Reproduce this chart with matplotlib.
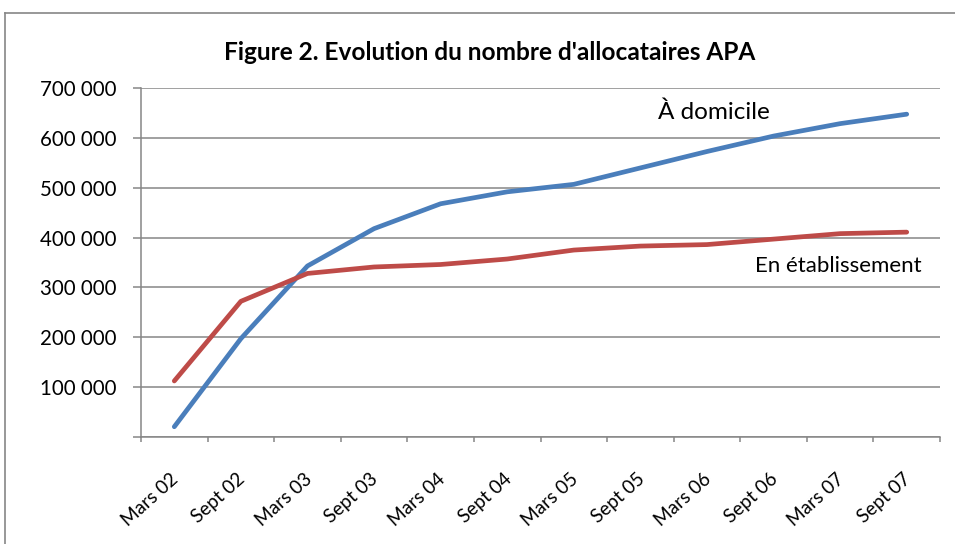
import matplotlib

matplotlib.use("Agg")
import matplotlib.pyplot as plt
from matplotlib.lines import Line2D
from matplotlib.ticker import FuncFormatter
from matplotlib.transforms import ScaledTranslation

plt.rcParams["font.family"] = ["Lato", "DejaVu Sans"]

# ---- data
periods = ["Mars 02", "Sept 02", "Mars 03", "Sept 03", "Mars 04", "Sept 04",
           "Mars 05", "Sept 05", "Mars 06", "Sept 06", "Mars 07", "Sept 07"]
domicile = [20000, 197000, 343000, 418000, 468000, 492000,
            507000, 540000, 573000, 604000, 629000, 648000]
etablissement = [112000, 272000, 328000, 341000, 346000, 357000,
                 375000, 383000, 386000, 397000, 408000, 411000]
yticks = [0, 100000, 200000, 300000, 400000, 500000, 600000, 700000]

BLUE = "#4A7EBB"
RED = "#BE4B48"
GREY = "#868686"

W, H = 955, 544
fig = plt.figure(figsize=(W / 100, H / 100), dpi=100)
ax = fig.add_axes([141 / W, 1 - 436.7 / H, (940 - 141) / W, (436.7 - 88.3) / H])

x = [i + 0.5 for i in range(len(periods))]
ax.plot(x, domicile, color=BLUE, lw=3.4, solid_capstyle="round", solid_joinstyle="round", zorder=3)
ax.plot(x, etablissement, color=RED, lw=3.4, solid_capstyle="round", solid_joinstyle="round", zorder=3)

ax.set_xlim(0, len(periods))
ax.set_ylim(0, 700000)

# y axis
ax.set_yticks(yticks)
ax.yaxis.set_major_formatter(FuncFormatter(lambda v, p: "" if v == 0 else f"{int(v):,}".replace(",", " ")))
ax.tick_params(axis="y", length=5.8, width=1.1, color=GREY, pad=12, labelsize=14.8, labelcolor="black")
ax.grid(axis="y", color=GREY, lw=1.1)
ax.set_axisbelow(True)

# x axis: marks at category boundaries, labels at centres
ax.set_xticks(range(len(periods) + 1))
ax.set_xticklabels([])
ax.tick_params(axis="x", which="major", length=3.8, width=1.1, color=GREY)
ax.set_xticks(x, minor=True)
ax.set_xticklabels(periods, minor=True, rotation=42, ha="right", va="top",
                   rotation_mode="anchor", fontsize=13.6)
ax.tick_params(axis="x", which="minor", length=0, pad=24)
shift = ScaledTranslation(-4 / 100, 0, fig.dpi_scale_trans)
for lab in ax.get_xticklabels(minor=True):
    lab.set_transform(lab.get_transform() + shift)

for s in ["top", "right"]:
    ax.spines[s].set_visible(False)
for s in ["left", "bottom"]:
    ax.spines[s].set_color(GREY)
    ax.spines[s].set_linewidth(1.1)

# series labels
ax.text(7.76, 638000, "À domicile", fontsize=17.5, ha="left", va="baseline")
ax.text(9.22, 330000, "En établissement", fontsize=16, ha="left", va="baseline")

fig.text(489.5 / W, 1 - 52 / H, "Figure 2. Evolution du nombre d'allocataires APA",
         ha="center", va="center", fontsize=17.6, fontweight="bold")

# outer frame (only top and left edges fall inside the picture)
fig.add_artist(Line2D([5 / W, 1], [1 - 13 / H, 1 - 13 / H], transform=fig.transFigure, color=GREY, lw=1.2))
fig.add_artist(Line2D([5 / W, 5 / W], [0, 1 - 13 / H], transform=fig.transFigure, color=GREY, lw=1.2))

fig.savefig("out.png", dpi=100)
